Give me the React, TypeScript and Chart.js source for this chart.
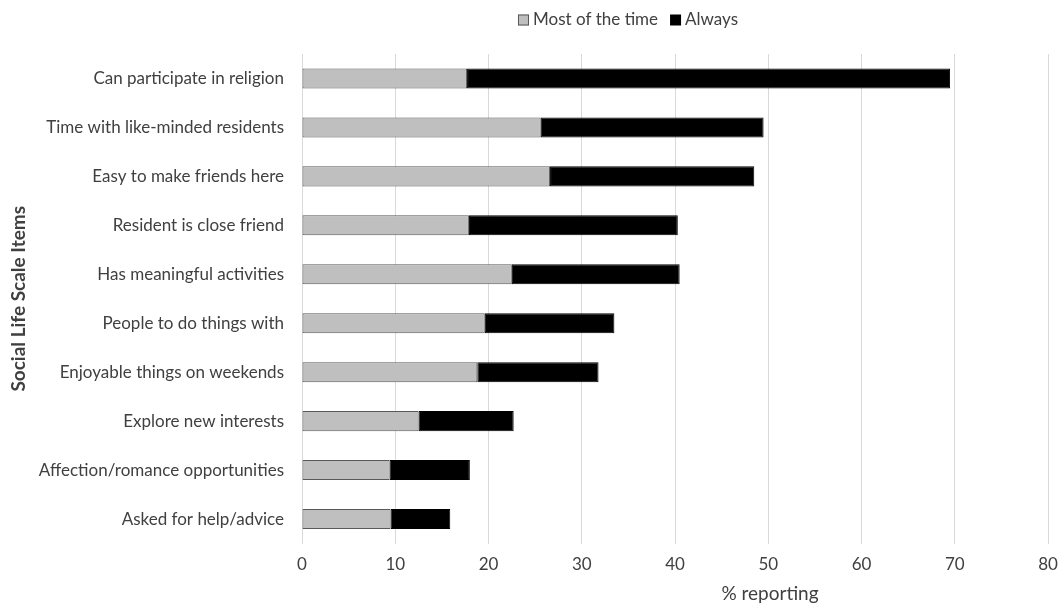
import React, { useEffect, useRef } from "react";
import { Chart, registerables } from "chart.js";

Chart.register(...registerables);

const categories = [
  "Can participate in religion",
  "Time with like-minded residents",
  "Easy to make friends here",
  "Resident is close friend",
  "Has meaningful activities",
  "People to do things with",
  "Enjoyable things on weekends",
  "Explore new interests",
  "Affection/romance opportunities",
  "Asked for help/advice",
];
const mostOfTheTime = [17.7, 25.6, 26.6, 17.9, 22.5, 19.6, 18.8, 12.5, 9.4, 9.5];
const always = [51.8, 23.9, 21.9, 22.4, 18.0, 13.9, 13.0, 10.2, 8.6, 6.4];
const seriesNames = ["Most of the time", "Always"];
const xTitle = "% reporting";
const yTitle = "Social Life Scale Items";

const FONT = "Lato, 'Open Sans', sans-serif";
const TEXT = "#404040";
const GRAY = "#bfbfbf";

const overlayPlugin = {
  id: "overlay",
  afterDraw(chart: any) {
    const ctx = chart.ctx;
    ctx.save();
    ctx.font = `17px ${FONT}`;
    ctx.textBaseline = "middle";
    const box = 11;
    const gapBox = 4;
    const gapItem = 12;
    const w0 = ctx.measureText(seriesNames[0]).width;
    const w1 = ctx.measureText(seriesNames[1]).width;
    const total = box + gapBox + w0 + gapItem + box + gapBox + w1;
    let x = 628 - total / 2;
    const y = 20;
    ctx.fillStyle = GRAY;
    ctx.fillRect(x, y - box / 2, box, box);
    ctx.strokeStyle = "#595959";
    ctx.lineWidth = 1;
    ctx.strokeRect(x + 0.5, y - box / 2 + 0.5, box - 1, box - 1);
    ctx.fillStyle = TEXT;
    ctx.textAlign = "left";
    ctx.fillText(seriesNames[0], x + box + gapBox, y);
    x += box + gapBox + w0 + gapItem;
    ctx.fillStyle = "#000";
    ctx.fillRect(x, y - box / 2, box, box);
    ctx.fillStyle = TEXT;
    ctx.fillText(seriesNames[1], x + box + gapBox, y);
    // x axis title
    ctx.font = `19px ${FONT}`;
    ctx.textAlign = "center";
    ctx.fillText(xTitle, 770, 594);
    ctx.restore();
  },
};

export default function App() {
  const ref = useRef<HTMLCanvasElement | null>(null);
  useEffect(() => {
    document.body.style.margin = "0";
    const canvas = ref.current!;
    const chart = new Chart(canvas, {
      type: "bar",
      data: {
        labels: categories,
        datasets: [
          {
            label: seriesNames[0],
            data: mostOfTheTime,
            backgroundColor: GRAY,
            borderColor: "#595959",
            borderWidth: 1,
            borderSkipped: false,
            barPercentage: 0.41,
            categoryPercentage: 1,
          },
          {
            label: seriesNames[1],
            data: always,
            backgroundColor: "#000",
            borderColor: "#000",
            borderWidth: 1,
            borderSkipped: false,
            barPercentage: 0.41,
            categoryPercentage: 1,
          },
        ],
      },
      options: {
        indexAxis: "y",
        responsive: false,
        animation: false,
        layout: { padding: { top: 54, right: 12, left: 7, bottom: 0 } },
        plugins: {
          legend: { display: false },
          tooltip: { enabled: false },
        },
        scales: {
          x: {
            stacked: true,
            min: 0,
            max: 80,
            ticks: {
              stepSize: 10,
              color: TEXT,
              font: { family: FONT, size: 17 },
              padding: 11,
            },
            grid: { color: "#d9d9d9", drawTicks: false },
            border: { display: false },
            afterFit: (scale: any) => {
              scale.height = 60.5;
              scale.paddingLeft = 0;
              scale.paddingRight = 0;
            },
          },
          y: {
            stacked: true,
            ticks: {
              color: TEXT,
              font: { family: FONT, size: 17 },
              padding: 18,
            },
            grid: { display: false, drawTicks: false },
            border: { display: false },
            title: {
              display: true,
              text: yTitle,
              color: TEXT,
              font: { family: FONT, size: 19, weight: "bold" },
              padding: 0,
            },
            afterFit: (scale: any) => {
              scale.width = 295;
              scale.paddingTop = 0;
              scale.paddingBottom = 0;
            },
          },
        },
      },
      plugins: [overlayPlugin],
    });
    return () => chart.destroy();
  }, []);
  return <canvas ref={ref} width={1060} height={604} style={{ display: "block" }} />;
}
